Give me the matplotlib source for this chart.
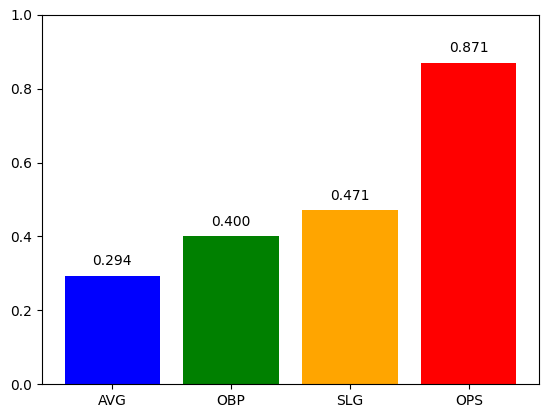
import matplotlib.pyplot as plt

stats = ["AVG", "OBP", "SLG", "OPS"]
values = [0.294, 0.400, 0.471, 0.871]
colors = ["blue", "green", "orange", "red"]

fig = plt.figure(figsize=(5.47, 4.18), dpi=100)
ax = fig.add_axes([42 / 547, 1 - 384 / 418, 497 / 547, 369 / 418])

ax.bar(stats, values, color=colors)
for i, v in enumerate(values):
    ax.text(i, v + 0.02, f"{v:.3f}", ha="center", va="bottom")

ax.set_ylim(0, 1)

fig.savefig("out.png", dpi=100)
